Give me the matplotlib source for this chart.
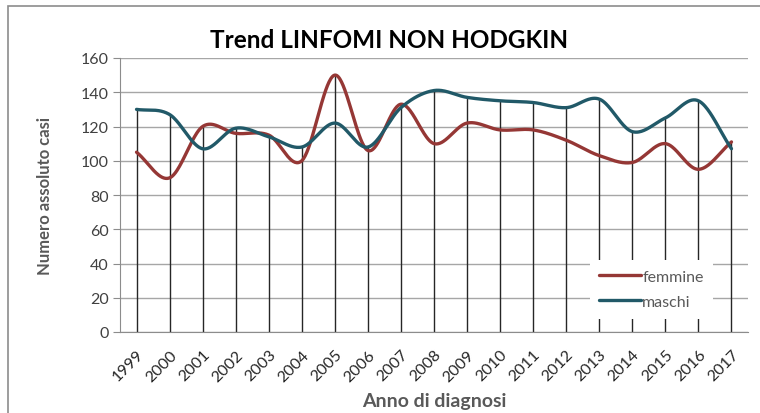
import numpy as np
import matplotlib
matplotlib.use("Agg")
import matplotlib.pyplot as plt
from matplotlib.patches import Rectangle

plt.rcParams['font.family'] = ['Lato', 'DejaVu Sans']

anni = [str(a) for a in range(1999, 2018)]
femmine = [105, 90, 120, 116, 115, 100, 150, 106, 133, 110, 122, 118, 118, 112, 103, 99, 110, 95, 111]
maschi = [130, 127, 107, 119, 114, 108, 122, 108, 131, 141, 137, 135, 134, 131, 136, 117, 125, 135, 107]

col_f = '#953735'
col_m = '#215968'
grigio = '#595959'


def smooth(x, y, n=40):
    # Catmull-Rom curve through every point, like Excel's smoothed lines
    x = np.asarray(x, float)
    y = np.asarray(y, float)
    px = np.concatenate([[2 * x[0] - x[1]], x, [2 * x[-1] - x[-2]]])
    py = np.concatenate([[2 * y[0] - y[1]], y, [2 * y[-1] - y[-2]]])
    xs, ys = [], []
    t = np.linspace(0, 1, n, endpoint=False)
    for i in range(1, len(px) - 2):
        for p, out in ((px, xs), (py, ys)):
            p0, p1, p2, p3 = p[i - 1], p[i], p[i + 1], p[i + 2]
            out.extend(0.5 * (2 * p1 + (-p0 + p2) * t
                              + (2 * p0 - 5 * p1 + 4 * p2 - p3) * t ** 2
                              + (-p0 + 3 * p1 - 3 * p2 + p3) * t ** 3))
    xs.append(x[-1])
    ys.append(y[-1])
    return np.array(xs), np.array(ys)


fig = plt.figure(figsize=(7.6, 4.14), dpi=100)
fig.patches.append(Rectangle((8 / 760, -0.1), 1.2, 1 - 7 / 414 + 0.1, transform=fig.transFigure,
                             fill=False, edgecolor='#8c8c8c', linewidth=1.2))
ax = fig.add_axes([120 / 760, 1 - 333 / 414, 628 / 760, 274 / 414])

x = np.arange(len(anni))

# drop lines from the higher series down to zero
alto = np.maximum(femmine, maschi)
ax.vlines(x, 0, alto, color='#262626', linewidth=1, zorder=2)

for serie, col, nome in ((femmine, col_f, 'femmine'), (maschi, col_m, 'maschi')):
    sx, sy = smooth(x, serie)
    ax.plot(sx, sy, color=col, linewidth=2.4, solid_capstyle='round', label=nome, zorder=3)

ax.set_xlim(-0.5, len(anni) - 0.5)
ax.set_ylim(0, 160)
ax.set_yticks(range(0, 161, 20))
ax.yaxis.grid(True, color='#a6a6a6', linewidth=1)
ax.set_axisbelow(True)
ax.set_xticks(x)
ax.set_xticklabels(anni, rotation=45, ha='right', rotation_mode='anchor', fontsize=11.5, color='#262626')
ax.tick_params(axis='x', length=0, pad=11)
ax.tick_params(axis='y', length=5, color='#8c8c8c', labelsize=11.5, labelcolor='#404040', pad=3)
for s in ('top', 'right'):
    ax.spines[s].set_visible(False)
for s in ('left', 'bottom'):
    ax.spines[s].set_color('#8c8c8c')

ax.set_ylabel('Numero assoluto casi', fontsize=12, fontweight='bold', color=grigio, labelpad=20)
ax.set_xlabel('Anno di diagnosi', fontsize=14, fontweight='bold', color=grigio, labelpad=6)
fig.text(0.512, 1 - 40 / 414, 'Trend LINFOMI NON HODGKIN', ha='center', va='center',
         fontsize=17.5, fontweight='bold', color='black')

leg = ax.legend(loc='lower left', bbox_to_anchor=(0.735, 0.02), frameon=True, fancybox=False,
                facecolor='white', edgecolor='none', framealpha=1, fontsize=11.5,
                handlelength=2.6, handletextpad=0.1, borderpad=0.6, labelspacing=0.7)
for t in leg.get_texts():
    t.set_color(grigio)
leg.set_zorder(5)

fig.savefig('out.png', dpi=100)
